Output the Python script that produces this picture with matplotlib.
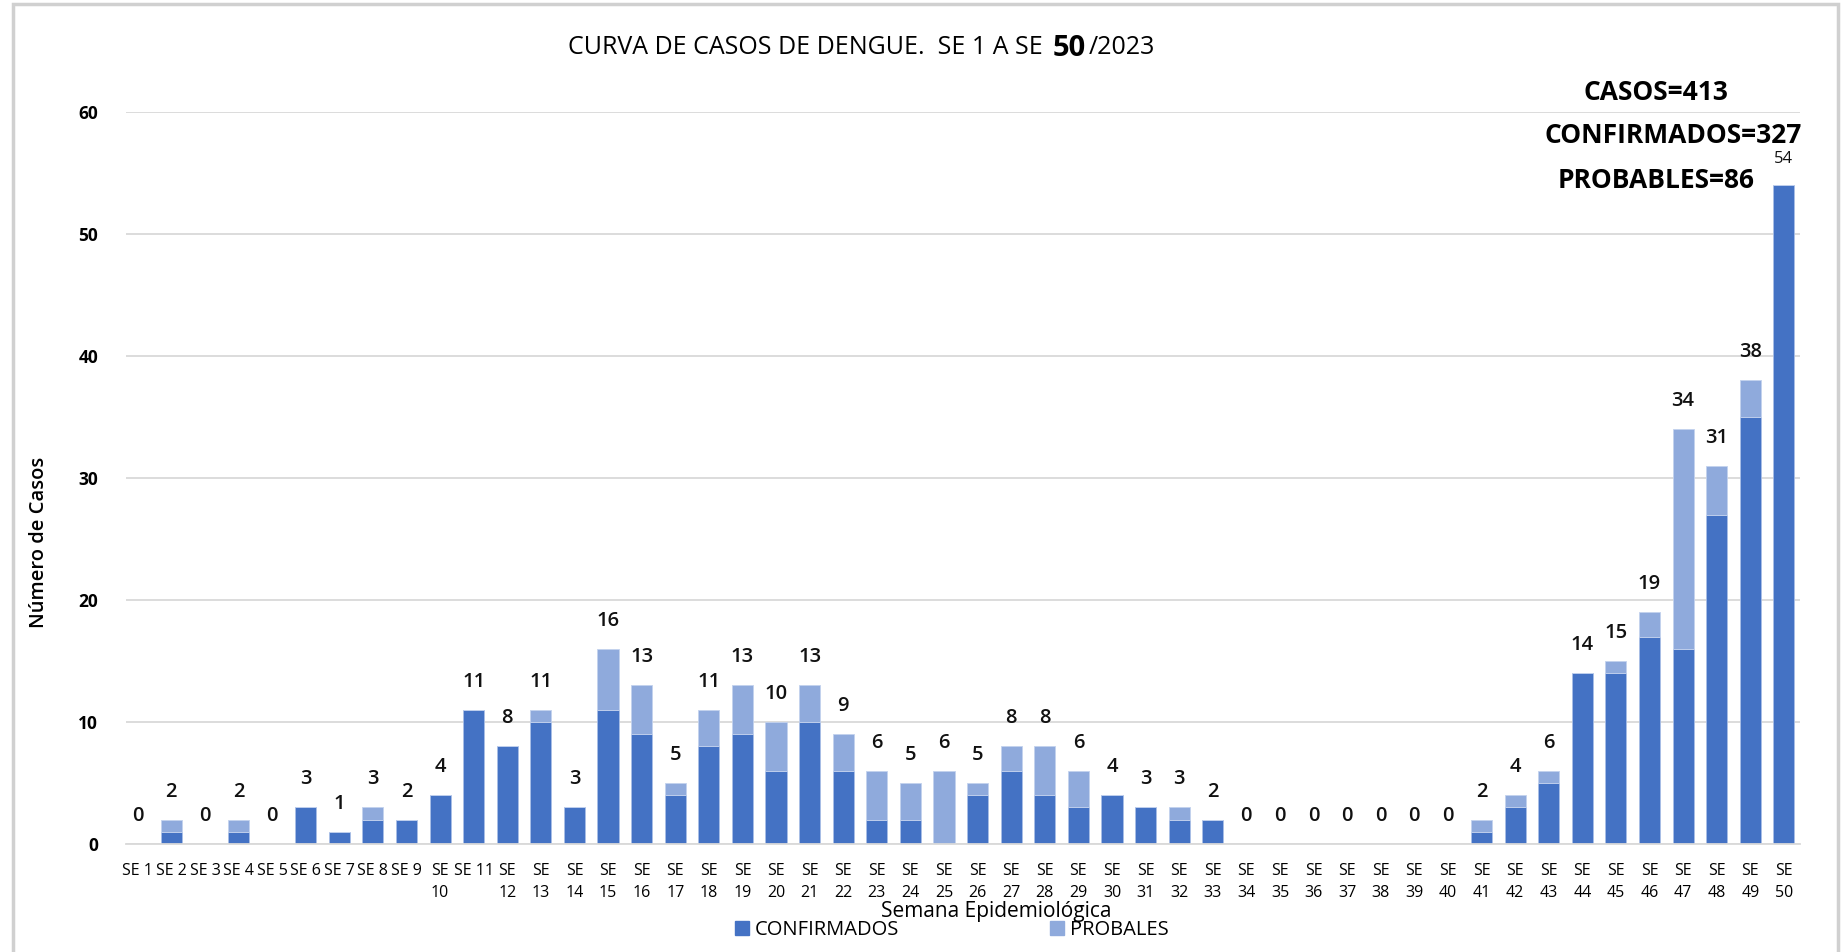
"""Curva de casos de dengue, SE 1 a SE 50 / 2023."""

import matplotlib

matplotlib.use("Agg")
import matplotlib.pyplot as plt
from matplotlib.patches import Patch, Rectangle

plt.rcParams["font.family"] = ["Open Sans", "DejaVu Sans"]

# semana epidemiologica -> casos
weeks = list(range(1, 51))
confirmados = [0, 1, 0, 1, 0, 3, 1, 2, 2, 4, 11, 8, 10, 3, 11, 9, 4, 8, 9, 6,
               10, 6, 2, 2, 0, 4, 6, 4, 3, 4, 3, 2, 2, 0, 0, 0, 0, 0, 0, 0,
               1, 3, 5, 14, 14, 17, 16, 27, 35, 54]
probables = [0, 1, 0, 1, 0, 0, 0, 1, 0, 0, 0, 0, 1, 0, 5, 4, 1, 3, 4, 4,
             3, 3, 4, 3, 6, 1, 2, 4, 3, 0, 0, 1, 0, 0, 0, 0, 0, 0, 0, 0,
             1, 1, 1, 0, 1, 2, 18, 4, 3, 0]
single_line_weeks = [1, 2, 3, 4, 5, 6, 7, 8, 9, 11]
tick_labels = [f"SE {w}" if w in single_line_weeks else f"SE\n{w}" for w in weeks]
totals = [c + p for c, p in zip(confirmados, probables)]

DARK = "#4472C4"
LIGHT = "#8FAADC"

fig = plt.figure(figsize=(18.48, 9.52), dpi=100)
fig.patches.append(Rectangle((13 / 1848, -0.1), 1825 / 1848, 1.1 - 4 / 952,
                             transform=fig.transFigure, fill=False,
                             edgecolor="#d0d0d0", linewidth=2.5))
ax = fig.add_axes([126 / 1848, 1 - 844 / 952, 1674 / 1848, (844 - 112) / 952])

x = list(range(len(weeks)))
b1 = ax.bar(x, confirmados, width=0.63, color=DARK, edgecolor="#a9bfe6", linewidth=0.6)
b2 = ax.bar(x, probables, width=0.63, bottom=confirmados, color=LIGHT,
            edgecolor="#c3d2ee", linewidth=0.6)

texts = ax.bar_label(b2, labels=[str(t) for t in totals], padding=13,
                     fontsize=14.5, fontweight="semibold", color="#111111")
texts[-1].set_fontsize(12)
texts[-1].set_fontweight("normal")

ax.set_xlim(-0.35, 49.48)
ax.set_ylim(0, 60)
ax.set_yticks(range(0, 61, 10))
ax.set_xticks(x)
ax.set_xticklabels(tick_labels, fontsize=11.5, linespacing=1.45)
ax.tick_params(axis="x", length=0, pad=14)
ax.tick_params(axis="y", length=0, pad=20, labelsize=12.5)
for lab in ax.get_yticklabels():
    lab.set_fontweight("bold")
ax.grid(axis="y", color="#d9d9d9", linewidth=1.3)
ax.set_axisbelow(True)
for side in ("top", "right", "left"):
    ax.spines[side].set_visible(False)
ax.spines["bottom"].set_color("#d9d9d9")
ax.spines["bottom"].set_linewidth(1.3)

fig.text(39 / 1848, 1 - 542 / 952, "Número de Casos", rotation=90,
         ha="center", va="center", fontsize=14.5, fontweight="semibold")
fig.text(996 / 1848, 1 - 911 / 952, "Semana Epidemiológica",
         ha="center", va="center", fontsize=15)

handles = [Patch(color=DARK), Patch(color=LIGHT)]
fig.legend(handles, ["CONFIRMADOS", "PROBALES"], loc="center",
           bbox_to_anchor=(952 / 1848, 1 - 930 / 952), ncol=2, frameon=False,
           fontsize=14.5, handlelength=0.7, handleheight=0.7, handletextpad=0.3,
           columnspacing=7.5)

# titulo con "50" resaltado
fig.canvas.draw()
renderer = fig.canvas.get_renderer()
parts = [("CURVA DE CASOS DE DENGUE.  SE 1 A SE ", 18, "normal"),
         ("50", 21, "bold"), ("/2023", 18, "normal")]
xpos = 568 / 1848
for txt, size, weight in parts:
    t = fig.text(xpos, 1 - 48 / 952, txt, fontsize=size, fontweight=weight,
                 ha="left", va="center")
    bb = t.get_window_extent(renderer)
    xpos += bb.width / fig.bbox.width + 3 / 1848

fig.text(1656 / 1848, 1 - 92 / 952, "CASOS=413", ha="center", va="center",
         fontsize=19, fontweight="bold")
fig.text(1802 / 1848, 1 - 136 / 952, "CONFIRMADOS=327", ha="right", va="center",
         fontsize=19, fontweight="bold")
fig.text(1755 / 1848, 1 - 180 / 952, "PROBABLES=86", ha="right", va="center",
         fontsize=19, fontweight="bold")

fig.savefig("out.png", dpi=100)
